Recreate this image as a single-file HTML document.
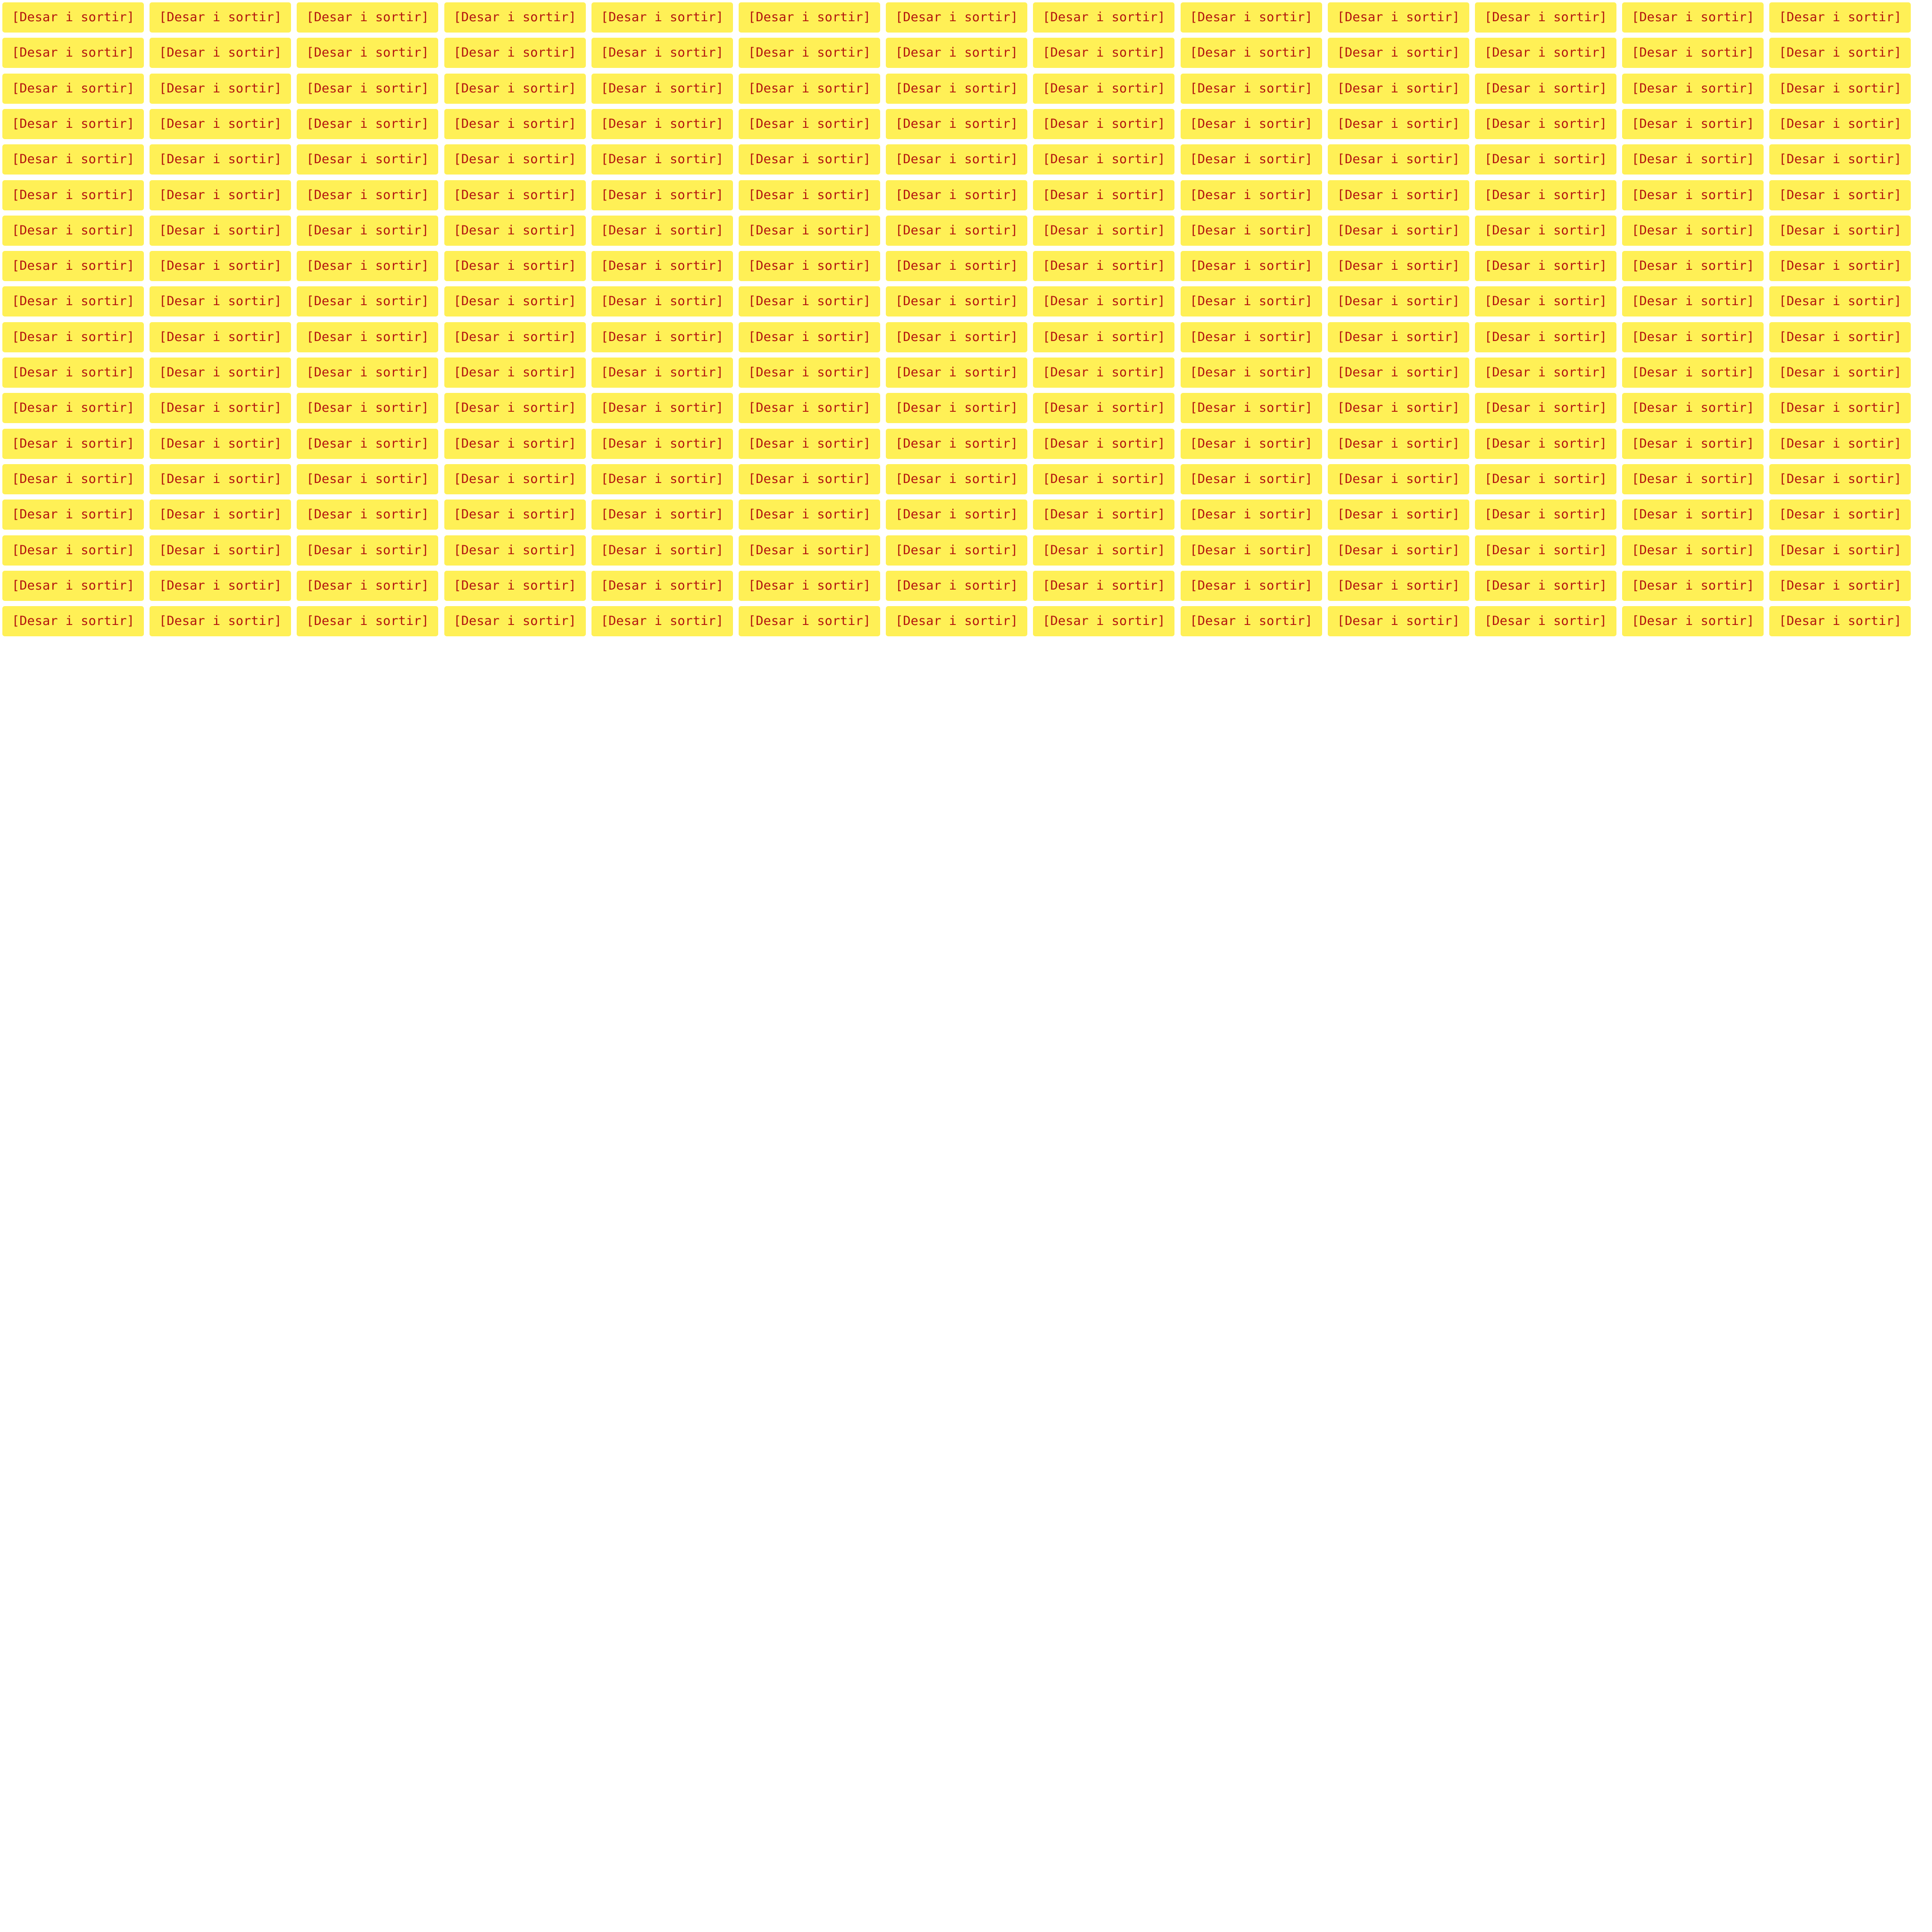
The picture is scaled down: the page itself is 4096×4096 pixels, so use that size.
<!DOCTYPE html>
<html>
<head>
<meta charset="utf-8">
<style>
  html,body{margin:0;padding:0;background:#fff;}
  body{width:4096px;height:4096px;position:relative;overflow:hidden;}
  .btn{position:absolute;width:300px;height:64px;background:#fff056;border-radius:5px;
       color:#b3150f;font-family:"DejaVu Sans Mono","Liberation Mono",monospace;font-size:27px;
       line-height:64px;text-align:center;white-space:nowrap;}
</style>
</head>
<body>
<div id="grid"></div>
<script>
const cols = 13;
const rows = 18;
const label = "[Desar i sortir]";
const grid = document.getElementById('grid');
for (let r = 0; r < rows; r++) {
  for (let c = 0; c < cols; c++) {
    const el = document.createElement('div');
    el.className = 'btn';
    el.style.left = (5 + c * 312.2) + 'px';
    el.style.top = (5 + r * 75.3) + 'px';
    el.textContent = label;
    
    
    grid.appendChild(el);
  }
}
</script>
</body>
</html>
